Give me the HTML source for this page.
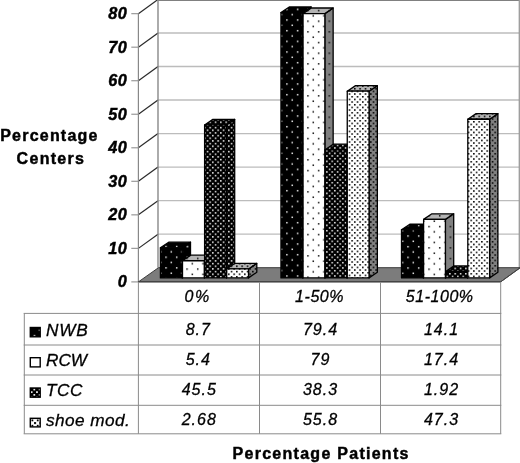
<!DOCTYPE html><html><head><meta charset="utf-8"><title>chart</title><style>html,body{margin:0;padding:0;background:#fff}body{width:520px;height:463px;overflow:hidden}</style></head><body><svg width="520" height="463" viewBox="0 0 520 463" style="display:block">
<defs><pattern id="s_bw0" width="10.667" height="10.667" patternUnits="userSpaceOnUse" patternTransform="translate(5.25 0.45)"><rect width="10.667" height="10.667" fill="#000"/><rect x="0" y="0" width="1.5" height="1.5" fill="#e6e6e6"/><rect x="5.333" y="5.333" width="1.5" height="1.5" fill="#e6e6e6"/></pattern><pattern id="s_wb0" width="10.667" height="10.667" patternUnits="userSpaceOnUse" patternTransform="translate(4.95 1.65)"><rect width="10.667" height="10.667" fill="#fff"/><rect x="0" y="0" width="1.5" height="1.5" fill="#111"/><rect x="5.333" y="5.333" width="1.5" height="1.5" fill="#111"/></pattern><pattern id="s_gb0" width="10.667" height="10.667" patternUnits="userSpaceOnUse" patternTransform="translate(4.95 1.65)"><rect width="10.667" height="10.667" fill="#808080"/><rect x="0" y="0" width="1.5" height="1.5" fill="#111"/><rect x="5.333" y="5.333" width="1.5" height="1.5" fill="#111"/></pattern><pattern id="s_lb0" width="10.667" height="10.667" patternUnits="userSpaceOnUse" patternTransform="translate(4.95 1.65)"><rect width="10.667" height="10.667" fill="#b4b4b4"/><rect x="0" y="0" width="1.5" height="1.5" fill="#111"/><rect x="5.333" y="5.333" width="1.5" height="1.5" fill="#111"/></pattern><pattern id="d_bw0" width="5.333" height="5.333" patternUnits="userSpaceOnUse" patternTransform="translate(4.10 1.50)"><rect width="5.333" height="5.333" fill="#000"/><rect x="0" y="0" width="1.5" height="1.5" fill="#f0f0f0"/><rect x="2.667" y="2.667" width="1.5" height="1.5" fill="#f0f0f0"/></pattern><pattern id="d_wb0" width="5.333" height="5.333" patternUnits="userSpaceOnUse" patternTransform="translate(4.07 1.48)"><rect width="5.333" height="5.333" fill="#fff"/><rect x="0" y="0" width="1.55" height="1.55" fill="#000"/><rect x="2.667" y="2.667" width="1.55" height="1.55" fill="#000"/></pattern><pattern id="d_gb0" width="5.333" height="5.333" patternUnits="userSpaceOnUse" patternTransform="translate(4.07 1.48)"><rect width="5.333" height="5.333" fill="#808080"/><rect x="0" y="0" width="1.55" height="1.55" fill="#000"/><rect x="2.667" y="2.667" width="1.55" height="1.55" fill="#000"/></pattern><pattern id="d_lb0" width="5.333" height="5.333" patternUnits="userSpaceOnUse" patternTransform="translate(4.07 1.48)"><rect width="5.333" height="5.333" fill="#b4b4b4"/><rect x="0" y="0" width="1.55" height="1.55" fill="#000"/><rect x="2.667" y="2.667" width="1.55" height="1.55" fill="#000"/></pattern><pattern id="s_bw1" width="10.667" height="10.667" patternUnits="userSpaceOnUse" patternTransform="translate(8.81 8.58)"><rect width="10.667" height="10.667" fill="#000"/><rect x="0" y="0" width="1.5" height="1.5" fill="#e6e6e6"/><rect x="5.333" y="5.333" width="1.5" height="1.5" fill="#e6e6e6"/></pattern><pattern id="s_wb1" width="10.667" height="10.667" patternUnits="userSpaceOnUse" patternTransform="translate(8.51 9.78)"><rect width="10.667" height="10.667" fill="#fff"/><rect x="0" y="0" width="1.5" height="1.5" fill="#111"/><rect x="5.333" y="5.333" width="1.5" height="1.5" fill="#111"/></pattern><pattern id="s_gb1" width="10.667" height="10.667" patternUnits="userSpaceOnUse" patternTransform="translate(8.51 9.78)"><rect width="10.667" height="10.667" fill="#808080"/><rect x="0" y="0" width="1.5" height="1.5" fill="#111"/><rect x="5.333" y="5.333" width="1.5" height="1.5" fill="#111"/></pattern><pattern id="s_lb1" width="10.667" height="10.667" patternUnits="userSpaceOnUse" patternTransform="translate(8.51 9.78)"><rect width="10.667" height="10.667" fill="#b4b4b4"/><rect x="0" y="0" width="1.5" height="1.5" fill="#111"/><rect x="5.333" y="5.333" width="1.5" height="1.5" fill="#111"/></pattern><pattern id="d_bw1" width="5.333" height="5.333" patternUnits="userSpaceOnUse" patternTransform="translate(8.81 8.58)"><rect width="5.333" height="5.333" fill="#000"/><rect x="0" y="0" width="1.5" height="1.5" fill="#f0f0f0"/><rect x="2.667" y="2.667" width="1.5" height="1.5" fill="#f0f0f0"/></pattern><pattern id="d_wb1" width="5.333" height="5.333" patternUnits="userSpaceOnUse" patternTransform="translate(7.38 7.96)"><rect width="5.333" height="5.333" fill="#fff"/><rect x="0" y="0" width="1.55" height="1.55" fill="#000"/><rect x="2.667" y="2.667" width="1.55" height="1.55" fill="#000"/></pattern><pattern id="d_gb1" width="5.333" height="5.333" patternUnits="userSpaceOnUse" patternTransform="translate(7.38 7.96)"><rect width="5.333" height="5.333" fill="#808080"/><rect x="0" y="0" width="1.55" height="1.55" fill="#000"/><rect x="2.667" y="2.667" width="1.55" height="1.55" fill="#000"/></pattern><pattern id="d_lb1" width="5.333" height="5.333" patternUnits="userSpaceOnUse" patternTransform="translate(7.38 7.96)"><rect width="5.333" height="5.333" fill="#b4b4b4"/><rect x="0" y="0" width="1.55" height="1.55" fill="#000"/><rect x="2.667" y="2.667" width="1.55" height="1.55" fill="#000"/></pattern><pattern id="s_bw2" width="10.667" height="10.667" patternUnits="userSpaceOnUse" patternTransform="translate(1.90 0.58)"><rect width="10.667" height="10.667" fill="#000"/><rect x="0" y="0" width="1.5" height="1.5" fill="#e6e6e6"/><rect x="5.333" y="5.333" width="1.5" height="1.5" fill="#e6e6e6"/></pattern><pattern id="s_wb2" width="10.667" height="10.667" patternUnits="userSpaceOnUse" patternTransform="translate(1.60 1.78)"><rect width="10.667" height="10.667" fill="#fff"/><rect x="0" y="0" width="1.5" height="1.5" fill="#111"/><rect x="5.333" y="5.333" width="1.5" height="1.5" fill="#111"/></pattern><pattern id="s_gb2" width="10.667" height="10.667" patternUnits="userSpaceOnUse" patternTransform="translate(1.60 1.78)"><rect width="10.667" height="10.667" fill="#808080"/><rect x="0" y="0" width="1.5" height="1.5" fill="#111"/><rect x="5.333" y="5.333" width="1.5" height="1.5" fill="#111"/></pattern><pattern id="s_lb2" width="10.667" height="10.667" patternUnits="userSpaceOnUse" patternTransform="translate(1.60 1.78)"><rect width="10.667" height="10.667" fill="#b4b4b4"/><rect x="0" y="0" width="1.5" height="1.5" fill="#111"/><rect x="5.333" y="5.333" width="1.5" height="1.5" fill="#111"/></pattern><pattern id="d_bw2" width="5.333" height="5.333" patternUnits="userSpaceOnUse" patternTransform="translate(1.15 1.00)"><rect width="5.333" height="5.333" fill="#000"/><rect x="0" y="0" width="1.5" height="1.5" fill="#f0f0f0"/><rect x="2.667" y="2.667" width="1.5" height="1.5" fill="#f0f0f0"/></pattern><pattern id="d_wb2" width="5.333" height="5.333" patternUnits="userSpaceOnUse" patternTransform="translate(1.12 0.97)"><rect width="5.333" height="5.333" fill="#fff"/><rect x="0" y="0" width="1.55" height="1.55" fill="#000"/><rect x="2.667" y="2.667" width="1.55" height="1.55" fill="#000"/></pattern><pattern id="d_gb2" width="5.333" height="5.333" patternUnits="userSpaceOnUse" patternTransform="translate(1.12 0.97)"><rect width="5.333" height="5.333" fill="#808080"/><rect x="0" y="0" width="1.55" height="1.55" fill="#000"/><rect x="2.667" y="2.667" width="1.55" height="1.55" fill="#000"/></pattern><pattern id="d_lb2" width="5.333" height="5.333" patternUnits="userSpaceOnUse" patternTransform="translate(1.12 0.97)"><rect width="5.333" height="5.333" fill="#b4b4b4"/><rect x="0" y="0" width="1.55" height="1.55" fill="#000"/><rect x="2.667" y="2.667" width="1.55" height="1.55" fill="#000"/></pattern><pattern id="i0" width="10.667" height="10.667" patternUnits="userSpaceOnUse" patternTransform="translate(33.65 334.85)"><rect width="10.667" height="10.667" fill="#000"/><rect x="0" y="0" width="1.5" height="1.5" fill="#ddd"/><rect x="5.333" y="5.333" width="1.5" height="1.5" fill="#ddd"/></pattern><pattern id="i2" width="5.333" height="5.333" patternUnits="userSpaceOnUse" patternTransform="translate(33.45 388.65)"><rect width="5.333" height="5.333" fill="#000"/><rect x="0" y="0" width="1.7" height="1.7" fill="#fff"/><rect x="2.667" y="2.667" width="1.7" height="1.7" fill="#fff"/></pattern><pattern id="i3" width="5.333" height="5.333" patternUnits="userSpaceOnUse" patternTransform="translate(31.45 419.45)"><rect width="5.333" height="5.333" fill="#fff"/><rect x="0" y="0" width="1.9" height="1.9" fill="#000"/><rect x="2.667" y="2.667" width="1.9" height="1.9" fill="#000"/></pattern><filter id="soft" x="-5%" y="-5%" width="110%" height="110%"><feGaussianBlur stdDeviation="0.25"/></filter></defs>
<rect width="520" height="463" fill="#fff"/>
<line x1="131.3" y1="281.90" x2="138.4" y2="281.90" stroke="#999" stroke-width="1.2"/>
<line x1="158.0" y1="234.17" x2="519.3" y2="234.17" stroke="#bcbcbc" stroke-width="1.4"/>
<line x1="138.4" y1="248.37" x2="158.0" y2="234.17" stroke="#2a2a2a" stroke-width="1.2"/>
<line x1="131.3" y1="248.37" x2="138.4" y2="248.37" stroke="#999" stroke-width="1.2"/>
<line x1="158.0" y1="200.64" x2="519.3" y2="200.64" stroke="#bcbcbc" stroke-width="1.4"/>
<line x1="138.4" y1="214.84" x2="158.0" y2="200.64" stroke="#2a2a2a" stroke-width="1.2"/>
<line x1="131.3" y1="214.84" x2="138.4" y2="214.84" stroke="#999" stroke-width="1.2"/>
<line x1="158.0" y1="167.11" x2="519.3" y2="167.11" stroke="#bcbcbc" stroke-width="1.4"/>
<line x1="138.4" y1="181.31" x2="158.0" y2="167.11" stroke="#2a2a2a" stroke-width="1.2"/>
<line x1="131.3" y1="181.31" x2="138.4" y2="181.31" stroke="#999" stroke-width="1.2"/>
<line x1="158.0" y1="133.58" x2="519.3" y2="133.58" stroke="#bcbcbc" stroke-width="1.4"/>
<line x1="138.4" y1="147.78" x2="158.0" y2="133.58" stroke="#2a2a2a" stroke-width="1.2"/>
<line x1="131.3" y1="147.78" x2="138.4" y2="147.78" stroke="#999" stroke-width="1.2"/>
<line x1="158.0" y1="100.05" x2="519.3" y2="100.05" stroke="#bcbcbc" stroke-width="1.4"/>
<line x1="138.4" y1="114.25" x2="158.0" y2="100.05" stroke="#2a2a2a" stroke-width="1.2"/>
<line x1="131.3" y1="114.25" x2="138.4" y2="114.25" stroke="#999" stroke-width="1.2"/>
<line x1="158.0" y1="66.52" x2="519.3" y2="66.52" stroke="#bcbcbc" stroke-width="1.4"/>
<line x1="138.4" y1="80.72" x2="158.0" y2="66.52" stroke="#2a2a2a" stroke-width="1.2"/>
<line x1="131.3" y1="80.72" x2="138.4" y2="80.72" stroke="#999" stroke-width="1.2"/>
<line x1="158.0" y1="32.99" x2="519.3" y2="32.99" stroke="#bcbcbc" stroke-width="1.4"/>
<line x1="138.4" y1="47.19" x2="158.0" y2="32.99" stroke="#2a2a2a" stroke-width="1.2"/>
<line x1="131.3" y1="47.19" x2="138.4" y2="47.19" stroke="#999" stroke-width="1.2"/>
<line x1="158.0" y1="-0.54" x2="519.3" y2="-0.54" stroke="#bcbcbc" stroke-width="1.4"/>
<line x1="138.4" y1="13.66" x2="158.0" y2="-0.54" stroke="#2a2a2a" stroke-width="1.2"/>
<line x1="131.3" y1="13.66" x2="138.4" y2="13.66" stroke="#999" stroke-width="1.2"/>
<line x1="158.0" y1="0.40" x2="519.3" y2="0.40" stroke="#808080" stroke-width="1.4"/>
<line x1="158.0" y1="0" x2="158.0" y2="267.70" stroke="#888" stroke-width="1.4"/>
<line x1="519.3" y1="0" x2="519.3" y2="267.70" stroke="#999" stroke-width="1.3"/>
<line x1="138.4" y1="13.66" x2="138.4" y2="281.90" stroke="#888" stroke-width="1.2"/>
<polygon points="138.4,281.9 158.5,267.70 520,267.70 520,268.00 500.6,281.9" fill="#7c7c7c" stroke="#3a3a3a" stroke-width="1" stroke-linejoin="miter"/>
<line x1="138.4" y1="281.59999999999997" x2="500.6" y2="281.59999999999997" stroke="#444" stroke-width="1.3"/>
<line x1="500.6" y1="281.9" x2="520" y2="267.70" stroke="#444" stroke-width="1"/>
<polygon points="182.20,247.79 190.50,242.19 190.50,272.30 182.20,277.90" fill="url(#s_bw0)" stroke="#000" stroke-width="1.3" stroke-linejoin="round"/>
<polygon points="160.40,247.79 168.70,242.19 190.50,242.19 182.20,247.79" fill="url(#s_bw0)" stroke="#000" stroke-width="1.3" stroke-linejoin="round"/>
<rect x="160.40" y="247.79" width="21.8" height="30.11" fill="url(#s_bw0)" stroke="#000" stroke-width="1.3" stroke-linejoin="round"/>
<polygon points="204.30,260.73 212.60,255.13 212.60,272.30 204.30,277.90" fill="url(#s_gb0)" stroke="#000" stroke-width="1.3" stroke-linejoin="round"/>
<polygon points="182.50,260.73 190.80,255.13 212.60,255.13 204.30,260.73" fill="url(#s_lb0)" stroke="#000" stroke-width="1.3" stroke-linejoin="round"/>
<rect x="182.50" y="260.73" width="21.8" height="17.17" fill="url(#s_wb0)" stroke="#000" stroke-width="1.3" stroke-linejoin="round"/>
<polygon points="226.40,124.97 234.70,119.37 234.70,272.30 226.40,277.90" fill="url(#d_bw0)" stroke="#000" stroke-width="1.3" stroke-linejoin="round"/>
<polygon points="204.60,124.97 212.90,119.37 234.70,119.37 226.40,124.97" fill="url(#d_bw0)" stroke="#000" stroke-width="1.3" stroke-linejoin="round"/>
<rect x="204.60" y="124.97" width="21.8" height="152.93" fill="url(#d_bw0)" stroke="#000" stroke-width="1.3" stroke-linejoin="round"/>
<polygon points="248.50,268.93 256.80,263.33 256.80,272.30 248.50,277.90" fill="url(#d_gb0)" stroke="#000" stroke-width="1.3" stroke-linejoin="round"/>
<polygon points="226.70,268.93 235.00,263.33 256.80,263.33 248.50,268.93" fill="url(#d_lb0)" stroke="#000" stroke-width="1.3" stroke-linejoin="round"/>
<rect x="226.70" y="268.93" width="21.8" height="8.97" fill="url(#d_wb0)" stroke="#000" stroke-width="1.3" stroke-linejoin="round"/>
<polygon points="302.75,12.55 311.05,6.95 311.05,272.30 302.75,277.90" fill="url(#s_bw1)" stroke="#000" stroke-width="1.3" stroke-linejoin="round"/>
<polygon points="280.95,12.55 289.25,6.95 311.05,6.95 302.75,12.55" fill="url(#s_bw1)" stroke="#000" stroke-width="1.3" stroke-linejoin="round"/>
<rect x="280.95" y="12.55" width="21.8" height="265.35" fill="url(#s_bw1)" stroke="#000" stroke-width="1.3" stroke-linejoin="round"/>
<polygon points="324.85,13.59 333.15,7.99 333.15,272.30 324.85,277.90" fill="url(#s_gb1)" stroke="#000" stroke-width="1.3" stroke-linejoin="round"/>
<polygon points="303.05,13.59 311.35,7.99 333.15,7.99 324.85,13.59" fill="url(#s_lb1)" stroke="#000" stroke-width="1.3" stroke-linejoin="round"/>
<rect x="303.05" y="13.59" width="21.8" height="264.31" fill="url(#s_wb1)" stroke="#000" stroke-width="1.3" stroke-linejoin="round"/>
<polygon points="346.95,149.76 355.25,144.16 355.25,272.30 346.95,277.90" fill="url(#d_bw1)" stroke="#000" stroke-width="1.3" stroke-linejoin="round"/>
<polygon points="325.15,149.76 333.45,144.16 355.25,144.16 346.95,149.76" fill="url(#d_bw1)" stroke="#000" stroke-width="1.3" stroke-linejoin="round"/>
<rect x="325.15" y="149.76" width="21.8" height="128.14" fill="url(#d_bw1)" stroke="#000" stroke-width="1.3" stroke-linejoin="round"/>
<polygon points="369.05,91.21 377.35,85.61 377.35,272.30 369.05,277.90" fill="url(#d_gb1)" stroke="#000" stroke-width="1.3" stroke-linejoin="round"/>
<polygon points="347.25,91.21 355.55,85.61 377.35,85.61 369.05,91.21" fill="url(#d_lb1)" stroke="#000" stroke-width="1.3" stroke-linejoin="round"/>
<rect x="347.25" y="91.21" width="21.8" height="186.69" fill="url(#d_wb1)" stroke="#000" stroke-width="1.3" stroke-linejoin="round"/>
<polygon points="423.30,229.83 431.60,224.23 431.60,272.30 423.30,277.90" fill="url(#s_bw2)" stroke="#000" stroke-width="1.3" stroke-linejoin="round"/>
<polygon points="401.50,229.83 409.80,224.23 431.60,224.23 423.30,229.83" fill="url(#s_bw2)" stroke="#000" stroke-width="1.3" stroke-linejoin="round"/>
<rect x="401.50" y="229.83" width="21.8" height="48.07" fill="url(#s_bw2)" stroke="#000" stroke-width="1.3" stroke-linejoin="round"/>
<polygon points="445.40,219.38 453.70,213.78 453.70,272.30 445.40,277.90" fill="url(#s_gb2)" stroke="#000" stroke-width="1.3" stroke-linejoin="round"/>
<polygon points="423.60,219.38 431.90,213.78 453.70,213.78 445.40,219.38" fill="url(#s_lb2)" stroke="#000" stroke-width="1.3" stroke-linejoin="round"/>
<rect x="423.60" y="219.38" width="21.8" height="58.52" fill="url(#s_wb2)" stroke="#000" stroke-width="1.3" stroke-linejoin="round"/>
<polygon points="467.50,271.48 475.80,265.88 475.80,272.30 467.50,277.90" fill="url(#d_bw2)" stroke="#000" stroke-width="1.3" stroke-linejoin="round"/>
<polygon points="445.70,271.48 454.00,265.88 475.80,265.88 467.50,271.48" fill="url(#d_bw2)" stroke="#000" stroke-width="1.3" stroke-linejoin="round"/>
<rect x="445.70" y="271.48" width="21.8" height="6.42" fill="url(#d_bw2)" stroke="#000" stroke-width="1.3" stroke-linejoin="round"/>
<polygon points="489.60,119.25 497.90,113.65 497.90,272.30 489.60,277.90" fill="url(#d_gb2)" stroke="#000" stroke-width="1.3" stroke-linejoin="round"/>
<polygon points="467.80,119.25 476.10,113.65 497.90,113.65 489.60,119.25" fill="url(#d_lb2)" stroke="#000" stroke-width="1.3" stroke-linejoin="round"/>
<rect x="467.80" y="119.25" width="21.8" height="158.65" fill="url(#d_wb2)" stroke="#000" stroke-width="1.3" stroke-linejoin="round"/>
<line x1="138.4" y1="281.9" x2="138.4" y2="433.8" stroke="#8a8a8a" stroke-width="1"/>
<line x1="259.5" y1="281.9" x2="259.5" y2="433.8" stroke="#8a8a8a" stroke-width="1"/>
<line x1="380.5" y1="281.9" x2="380.5" y2="433.8" stroke="#8a8a8a" stroke-width="1"/>
<line x1="500.7" y1="281.9" x2="500.7" y2="433.8" stroke="#8a8a8a" stroke-width="1"/>
<line x1="24.3" y1="313.4" x2="24.3" y2="433.8" stroke="#8a8a8a" stroke-width="1"/>
<line x1="23.7" y1="313.4" x2="501.3" y2="313.4" stroke="#8a8a8a" stroke-width="1"/>
<line x1="23.7" y1="345.0" x2="501.3" y2="345.0" stroke="#8a8a8a" stroke-width="1"/>
<line x1="23.7" y1="375.0" x2="501.3" y2="375.0" stroke="#8a8a8a" stroke-width="1"/>
<line x1="23.7" y1="405.3" x2="501.3" y2="405.3" stroke="#8a8a8a" stroke-width="1"/>
<line x1="23.7" y1="433.8" x2="501.3" y2="433.8" stroke="#8a8a8a" stroke-width="1"/>
<g filter="url(#soft)">
<text x="127" y="287.30" text-anchor="end" font-family="Liberation Sans, Arial, sans-serif" font-size="16.3" font-weight="bold" font-style="italic" letter-spacing="0.3" fill="#000" stroke="#000" stroke-width="0.45">0</text>
<text x="127" y="253.77" text-anchor="end" font-family="Liberation Sans, Arial, sans-serif" font-size="16.3" font-weight="bold" font-style="italic" letter-spacing="0.3" fill="#000" stroke="#000" stroke-width="0.45">10</text>
<text x="127" y="220.24" text-anchor="end" font-family="Liberation Sans, Arial, sans-serif" font-size="16.3" font-weight="bold" font-style="italic" letter-spacing="0.3" fill="#000" stroke="#000" stroke-width="0.45">20</text>
<text x="127" y="186.71" text-anchor="end" font-family="Liberation Sans, Arial, sans-serif" font-size="16.3" font-weight="bold" font-style="italic" letter-spacing="0.3" fill="#000" stroke="#000" stroke-width="0.45">30</text>
<text x="127" y="153.18" text-anchor="end" font-family="Liberation Sans, Arial, sans-serif" font-size="16.3" font-weight="bold" font-style="italic" letter-spacing="0.3" fill="#000" stroke="#000" stroke-width="0.45">40</text>
<text x="127" y="119.65" text-anchor="end" font-family="Liberation Sans, Arial, sans-serif" font-size="16.3" font-weight="bold" font-style="italic" letter-spacing="0.3" fill="#000" stroke="#000" stroke-width="0.45">50</text>
<text x="127" y="86.12" text-anchor="end" font-family="Liberation Sans, Arial, sans-serif" font-size="16.3" font-weight="bold" font-style="italic" letter-spacing="0.3" fill="#000" stroke="#000" stroke-width="0.45">60</text>
<text x="127" y="52.59" text-anchor="end" font-family="Liberation Sans, Arial, sans-serif" font-size="16.3" font-weight="bold" font-style="italic" letter-spacing="0.3" fill="#000" stroke="#000" stroke-width="0.45">70</text>
<text x="127" y="19.06" text-anchor="end" font-family="Liberation Sans, Arial, sans-serif" font-size="16.3" font-weight="bold" font-style="italic" letter-spacing="0.3" fill="#000" stroke="#000" stroke-width="0.45">80</text>
<text x="0.2" y="141.3" font-family="Liberation Sans, Arial, sans-serif" font-size="16" font-weight="bold" letter-spacing="1.22" fill="#000" stroke="#000" stroke-width="0.45">Percentage</text>
<text x="16.6" y="163.8" font-family="Liberation Sans, Arial, sans-serif" font-size="16" font-weight="bold" letter-spacing="1.3" fill="#000" stroke="#000" stroke-width="0.45">Centers</text>
<text x="232.6" y="458.5" font-family="Liberation Sans, Arial, sans-serif" font-size="16" font-weight="bold" letter-spacing="1.27" fill="#000" stroke="#000" stroke-width="0.45">Percentage Patients</text>
<text x="197.8" y="302.0" text-anchor="middle" font-family="Liberation Sans, Arial, sans-serif" font-size="16" font-style="italic" letter-spacing="1.8" fill="#000" stroke="#000" stroke-width="0.3">0%</text>
<text x="198.3" y="334.5" text-anchor="middle" font-family="Liberation Sans, Arial, sans-serif" font-size="16" font-style="italic" letter-spacing="1" fill="#000" stroke="#000" stroke-width="0.3">8.7</text>
<text x="198.3" y="364.5" text-anchor="middle" font-family="Liberation Sans, Arial, sans-serif" font-size="16" font-style="italic" letter-spacing="1" fill="#000" stroke="#000" stroke-width="0.3">5.4</text>
<text x="199.3" y="394.5" text-anchor="middle" font-family="Liberation Sans, Arial, sans-serif" font-size="16" font-style="italic" letter-spacing="1" fill="#000" stroke="#000" stroke-width="0.3">45.5</text>
<text x="199.3" y="424.5" text-anchor="middle" font-family="Liberation Sans, Arial, sans-serif" font-size="16" font-style="italic" letter-spacing="1" fill="#000" stroke="#000" stroke-width="0.3">2.68</text>
<text x="319.6" y="302.0" text-anchor="middle" font-family="Liberation Sans, Arial, sans-serif" font-size="16" font-style="italic" letter-spacing="0.55" fill="#000" stroke="#000" stroke-width="0.3">1-50%</text>
<text x="320.5" y="334.5" text-anchor="middle" font-family="Liberation Sans, Arial, sans-serif" font-size="16" font-style="italic" letter-spacing="1" fill="#000" stroke="#000" stroke-width="0.3">79.4</text>
<text x="320.5" y="364.5" text-anchor="middle" font-family="Liberation Sans, Arial, sans-serif" font-size="16" font-style="italic" letter-spacing="1" fill="#000" stroke="#000" stroke-width="0.3">79</text>
<text x="320.5" y="394.5" text-anchor="middle" font-family="Liberation Sans, Arial, sans-serif" font-size="16" font-style="italic" letter-spacing="1" fill="#000" stroke="#000" stroke-width="0.3">38.3</text>
<text x="320.5" y="424.5" text-anchor="middle" font-family="Liberation Sans, Arial, sans-serif" font-size="16" font-style="italic" letter-spacing="1" fill="#000" stroke="#000" stroke-width="0.3">55.8</text>
<text x="439.7" y="302.0" text-anchor="middle" font-family="Liberation Sans, Arial, sans-serif" font-size="16" font-style="italic" letter-spacing="0.55" fill="#000" stroke="#000" stroke-width="0.3">51-100%</text>
<text x="441.5" y="334.5" text-anchor="middle" font-family="Liberation Sans, Arial, sans-serif" font-size="16" font-style="italic" letter-spacing="1" fill="#000" stroke="#000" stroke-width="0.3">14.1</text>
<text x="441.5" y="364.5" text-anchor="middle" font-family="Liberation Sans, Arial, sans-serif" font-size="16" font-style="italic" letter-spacing="1" fill="#000" stroke="#000" stroke-width="0.3">17.4</text>
<text x="441.5" y="394.5" text-anchor="middle" font-family="Liberation Sans, Arial, sans-serif" font-size="16" font-style="italic" letter-spacing="1" fill="#000" stroke="#000" stroke-width="0.3">1.92</text>
<text x="441.5" y="424.5" text-anchor="middle" font-family="Liberation Sans, Arial, sans-serif" font-size="16" font-style="italic" letter-spacing="1" fill="#000" stroke="#000" stroke-width="0.3">47.3</text>
<text x="46" y="336.2" font-family="Liberation Sans, Arial, sans-serif" font-size="17.2" font-style="italic" letter-spacing="0.8" fill="#000" stroke="#000" stroke-width="0.3">NWB</text>
<text x="46" y="366.2" font-family="Liberation Sans, Arial, sans-serif" font-size="17.2" font-style="italic" letter-spacing="0.0" fill="#000" stroke="#000" stroke-width="0.3">RCW</text>
<text x="46" y="396.2" font-family="Liberation Sans, Arial, sans-serif" font-size="17.2" font-style="italic" letter-spacing="0.6" fill="#000" stroke="#000" stroke-width="0.3">TCC</text>
<text x="46" y="426.2" font-family="Liberation Sans, Arial, sans-serif" font-size="17.2" font-style="italic" letter-spacing="0.45" fill="#000" stroke="#000" stroke-width="0.3">shoe mod.</text>
</g>
<rect x="30.3" y="327.50" width="9.9" height="9.30" fill="url(#i0)" stroke="#000" stroke-width="1.4"/>
<rect x="30.3" y="357.70" width="9.9" height="9.20" fill="#fff" stroke="#000" stroke-width="1.4"/>
<rect x="30.3" y="388.00" width="9.9" height="9.20" fill="url(#i2)" stroke="#000" stroke-width="1.4"/>
<rect x="30.3" y="418.30" width="9.9" height="8.60" fill="url(#i3)" stroke="#000" stroke-width="1.4"/>
</svg></body></html>
